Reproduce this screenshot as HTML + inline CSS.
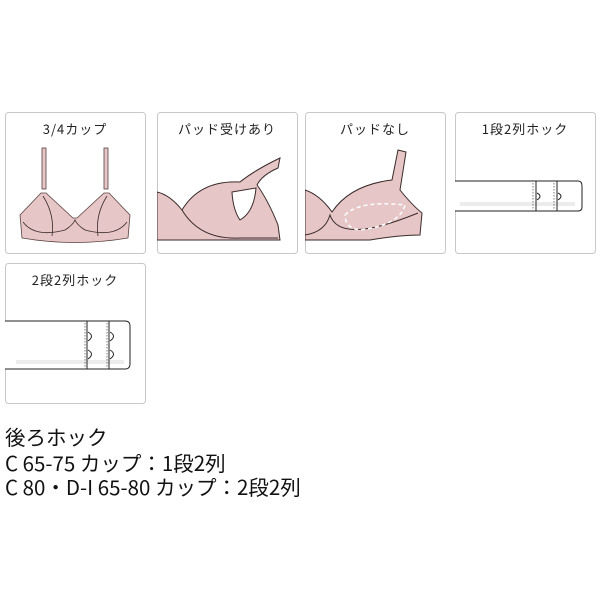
<!DOCTYPE html>
<html><head><meta charset="utf-8"><style>
body{margin:0;width:600px;height:600px;background:#fff;overflow:hidden;font-family:"Liberation Sans","Noto Sans CJK JP",sans-serif;}
.t{position:absolute;left:5px;font-size:20.5px;line-height:24px;color:#111;white-space:nowrap;font-family:"Noto Sans CJK JP","Liberation Sans",sans-serif;}
</style></head><body>
<svg width="600" height="420" style="position:absolute;left:0;top:0" font-family="Noto Sans CJK JP, sans-serif">
<defs><clipPath id="c1"><rect x="5" y="112" width="140" height="141" rx="3"/></clipPath>
<clipPath id="c2"><rect x="157" y="112" width="140" height="141" rx="3"/></clipPath>
<clipPath id="c3"><rect x="305" y="112" width="140" height="141" rx="3"/></clipPath>
<clipPath id="c4"><rect x="455" y="112" width="140" height="141" rx="3"/></clipPath>
<clipPath id="c5"><rect x="5" y="263" width="140" height="140" rx="3"/></clipPath></defs>
<g fill="none" stroke="#c8c8c8" stroke-width="1">
<rect x="5.5" y="112.5" width="140" height="141" rx="3"/>
<rect x="157.5" y="112.5" width="140" height="141" rx="3"/>
<rect x="305.5" y="112.5" width="140" height="141" rx="3"/>
<rect x="455.5" y="112.5" width="140" height="141" rx="3"/>
<rect x="5.5" y="263.5" width="140" height="140" rx="3"/>
</g>
<g font-size="13" fill="#222" text-anchor="middle" letter-spacing="1">
<text x="75" y="134">3/4カップ</text>
<text x="227" y="134">パッド受けあり</text>
<text x="375" y="134">パッドなし</text>
<text x="525" y="134">1段2列ホック</text>
<text x="75" y="285">2段2列ホック</text>
</g>
<!-- box1 bra -->
<g stroke="#5a4040" stroke-width="0.8" fill="#e6c6c6">
<rect x="42" y="148" width="4" height="41"/><rect x="104" y="148" width="4" height="41"/>
<path d="M41 193 L46 193 L73 218 L77 218 L104 193 L109 193 L130 215 L128 238 Q75 247 22 238 L20 215 Z"/>
</g>
<g stroke="#3a2a2a" stroke-width="0.8" fill="none">
<path d="M43 196 Q55 215 52 236"/><path d="M107 196 Q95 215 98 236"/>
<path d="M23 222 Q35 238 65 230 Q73 225 75 220 Q77 225 85 230 Q115 238 127 222"/>
</g>
<!-- box2 -->
<g clip-path="url(#c2)">
<path d="M157 192 Q170 195 182 210 Q200 180 240 182 Q255 170 280 158 L278 168 Q262 175 257 185 Q268 200 278 225 L280 240 L157 240 Z" fill="#e6c6c6" stroke="#3a2a2a" stroke-width="1"/>
<path d="M182 210 Q200 240 240 238 L278 238" fill="none" stroke="#3a2a2a" stroke-width="1"/>
<path d="M232 192 L256 188 Q254 212 240 220 Q233 210 232 192 Z" fill="#fff" stroke="#3a2a2a" stroke-width="1"/>
</g>
<!-- box3 -->
<g clip-path="url(#c3)">
<path d="M305 190 Q320 195 332 212 Q350 185 392 180 L398 150 L406 152 L400 190 Q412 205 422 213 L420 235 Q400 235 370 240 L305 240 Z" fill="#e6c6c6" stroke="#3a2a2a" stroke-width="1"/>
<path d="M305 235 Q325 232 330 215 Q340 245 418 213" fill="none" stroke="#3a2a2a" stroke-width="1"/>
<path d="M345 215 Q360 200 405 205 Q400 225 360 230 Q345 228 345 215" fill="none" stroke="#fff" stroke-width="1.5" stroke-dasharray="4 3"/>
</g>
<!-- box4 hook -->
<g clip-path="url(#c4)">
<path d="M455 181 L578 181 Q582 181 582 186 L582 207 Q582 211 578 211 L455 211" fill="#fff" stroke="#222" stroke-width="1"/>
<rect x="460" y="202" width="115" height="4" fill="#ececec"/>
<line x1="536" y1="181" x2="536" y2="211" stroke="#222"/><line x1="557" y1="181" x2="557" y2="211" stroke="#222"/>
<line x1="533" y1="183" x2="533" y2="209" stroke="#444" stroke-dasharray="1.5 1.5" stroke-width="0.7"/>
<line x1="554" y1="183" x2="554" y2="209" stroke="#444" stroke-dasharray="1.5 1.5" stroke-width="0.7"/>
<path d="M537 193 Q543 196 537 200" fill="none" stroke="#222"/><path d="M558 193 Q564 196 558 200" fill="none" stroke="#222"/>
</g>
<!-- box5 hook -->
<g clip-path="url(#c5)">
<path d="M5 321 L125 321 Q130 321 130 326 L130 364 Q130 369 125 369 L5 369" fill="#fff" stroke="#222" stroke-width="1"/>
<rect x="16" y="360" width="108" height="4" fill="#ececec"/>
<line x1="87" y1="321" x2="87" y2="369" stroke="#222"/><line x1="109" y1="321" x2="109" y2="369" stroke="#222"/>
<line x1="85" y1="323" x2="85" y2="367" stroke="#444" stroke-dasharray="1.5 1.5" stroke-width="0.7"/>
<line x1="107" y1="323" x2="107" y2="367" stroke="#444" stroke-dasharray="1.5 1.5" stroke-width="0.7"/>
<path d="M88 332 Q95 336 88 341" fill="none" stroke="#222"/><path d="M110 332 Q117 336 110 341" fill="none" stroke="#222"/>
<path d="M88 350 Q95 354 88 359" fill="none" stroke="#222"/><path d="M110 350 Q117 354 110 359" fill="none" stroke="#222"/>
</g>
</svg>
<div class="t" style="top:424px">後ろホック</div>
<div class="t" style="top:450px">C 65-75 カップ：1段2列</div>
<div class="t" style="top:474px">C 80・D-I 65-80 カップ：2段2列</div>
</body></html>
